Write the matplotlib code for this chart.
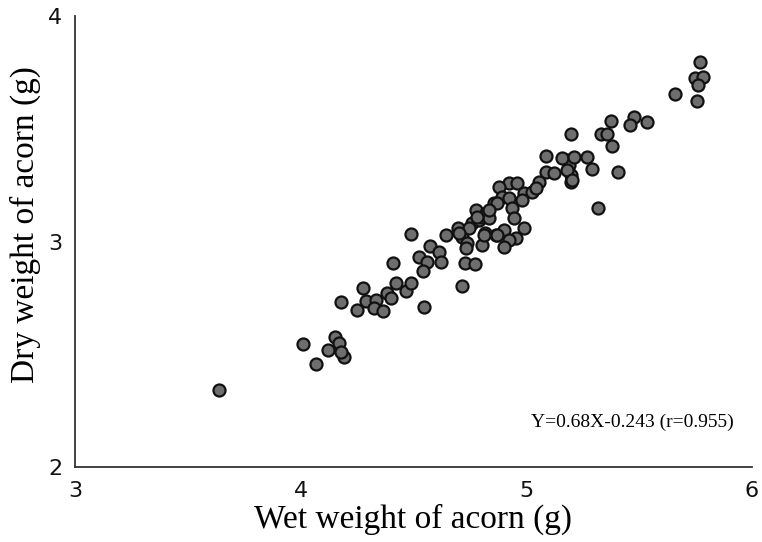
import numpy as np
import matplotlib.pyplot as plt

# Acorn weights (g)
wet = [3.640, 4.009, 4.067, 4.151, 4.169, 4.120, 4.191, 4.178, 4.178, 4.249,
       4.276, 4.289, 4.333, 4.324, 4.364, 4.382, 4.400, 4.422, 4.467, 4.409,
       4.489, 4.489, 4.573, 4.524, 4.560, 4.542, 4.613, 4.622, 4.547, 4.716,
       4.729, 4.773, 4.644, 4.698, 4.716, 4.738, 4.733, 4.778, 4.760, 4.791,
       4.822, 4.818, 4.804, 4.867, 4.858, 5.089, 5.089, 5.124, 5.178, 5.191,
       5.200, 5.200, 5.178, 4.924, 4.960, 4.880, 4.893, 4.924, 4.871, 4.938,
       4.947, 4.991, 4.982, 5.027, 5.058, 5.044, 4.804, 4.836, 4.902, 4.871,
       4.956, 4.924, 4.902, 4.991, 4.813, 5.373, 5.476, 5.458, 5.533, 5.200,
       5.333, 5.356, 5.378, 5.271, 5.293, 5.404, 5.316, 5.160, 5.213, 5.204,
       5.769, 5.747, 5.782, 5.760, 5.658, 5.756, 4.747, 4.836, 4.780, 4.700]
dry = [2.341, 2.545, 2.457, 2.576, 2.550, 2.519, 2.488, 2.510, 2.732, 2.696,
       2.794, 2.736, 2.741, 2.705, 2.692, 2.772, 2.749, 2.816, 2.780, 2.905,
       2.816, 3.033, 2.980, 2.931, 2.909, 2.869, 2.953, 2.909, 2.710, 2.803,
       2.905, 2.900, 3.029, 3.060, 3.020, 2.993, 2.971, 3.140, 3.082, 3.095,
       3.126, 3.038, 2.984, 3.029, 3.171, 3.379, 3.308, 3.304, 3.361, 3.339,
       3.295, 3.264, 3.317, 3.259, 3.259, 3.242, 3.197, 3.193, 3.171, 3.149,
       3.104, 3.215, 3.184, 3.220, 3.264, 3.237, 3.109, 3.104, 3.051, 3.029,
       3.016, 3.007, 2.976, 3.060, 3.029, 3.534, 3.552, 3.517, 3.530, 3.477,
       3.477, 3.477, 3.424, 3.375, 3.322, 3.308, 3.149, 3.370, 3.375, 3.273,
       3.796, 3.725, 3.729, 3.694, 3.654, 3.623, 3.060, 3.140, 3.110, 3.040]

equation = 'Y=0.68X-0.243 (r=0.955)'

fig = plt.figure(figsize=(7.62, 5.42), dpi=100)
ax = fig.add_axes([0.0984, 0.138, 0.8885, 0.832])

ax.scatter(wet, dry, s=75, c='#6e6e6e', edgecolors='#111111', linewidths=1.6, zorder=3)

ax.set_xlim(3, 6)
ax.set_ylim(2, 4)
ax.set_xticks([3, 4, 5, 6])
ax.set_yticks([2, 3, 4])
ax.tick_params(length=0, labelsize=16, colors='#111111')
ax.tick_params(axis='x', pad=10)
ax.tick_params(axis='y', pad=9)

for s in ['top', 'right']:
    ax.spines[s].set_visible(False)
for s in ['left', 'bottom']:
    ax.spines[s].set_color('#333333')
    ax.spines[s].set_linewidth(1.3)

ax.set_xlabel('Wet weight of acorn (g)', family='Liberation Serif', fontsize=24, labelpad=2)
ax.set_ylabel('Dry weight of acorn (g)', family='Liberation Serif', fontsize=24)
ax.yaxis.set_label_coords(-0.05, 0.537)

ax.text(0.674, 0.1, equation, transform=ax.transAxes, family='Liberation Serif',
        fontsize=14, va='center', ha='left')

plt.savefig('out.png', dpi=100)
